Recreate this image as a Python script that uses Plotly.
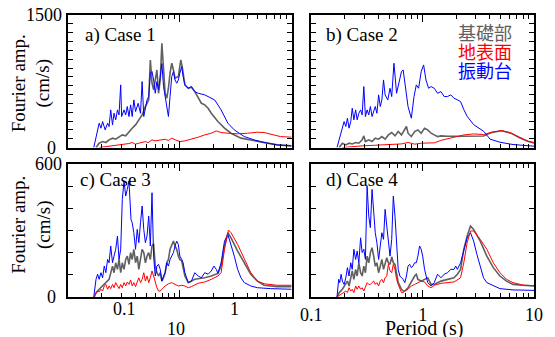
import plotly.graph_objects as go

# ---------------- data (period in s, Fourier amplitude in cm/s) ----------------
# Case 1
c1_gray_T = [0.178,0.190,0.204,0.218,0.233,0.250,0.267,0.286,0.306,0.328,0.351,0.375,0.402,0.430,0.460,0.492,0.527,0.545,0.564,0.583,0.603,0.624,0.645,0.668,0.691,0.715,0.739,0.765,0.791,0.818,0.847,0.877,0.906,0.970,1.00,1.02,1.05,1.11,1.19,1.27,1.36,1.46,1.56,1.67,1.79,1.91,2.19,2.51,2.87,3.52,4.31,5.66,7.42,10.0]
c1_gray_A = [0,49,68,57,87,106,94,124,143,132,181,219,256,313,369,464,539,990,728,652,765,878,614,765,1180,916,614,558,671,841,954,878,784,803,916,992,916,709,671,682,633,558,501,483,445,388,294,219,162,106,87,57,30,19]
c1_blue_T = [0.170,0.190,0.197,0.204,0.215,0.226,0.233,0.241,0.250,0.258,0.267,0.277,0.286,0.296,0.302,0.317,0.328,0.339,0.351,0.363,0.375,0.388,0.402,0.424,0.445,0.460,0.476,0.492,0.509,0.527,0.545,0.564,0.583,0.603,0.624,0.645,0.668,0.691,0.715,0.739,0.765,0.791,0.818,0.847,0.877,0.906,0.938,0.970,1.00,1.04,1.07,1.11,1.19,1.27,1.36,1.46,1.67,1.79,2.05,2.34,2.69,3.07,3.77,4.61,5.66,7.42,10.0]
c1_blue_A = [0,275,219,294,200,275,238,426,256,388,313,426,369,709,351,426,369,464,351,483,351,539,407,501,388,746,351,464,539,577,841,860,765,614,746,652,822,950,690,577,426,351,577,803,860,765,728,765,841,916,803,709,671,690,633,614,596,577,539,426,275,200,124,87,57,30,19]
c1_red_T = [0.190,0.250,0.290,0.328,0.350,0.375,0.400,0.430,0.460,0.492,0.520,0.564,0.600,0.645,0.700,0.739,0.790,0.847,0.920,1.00,1.11,1.27,1.46,1.67,1.91,2.12,2.34,2.69,3.29,4.03,4.94,5.66,6.48,7.94,10.0]
c1_red_A = [0,19,30,41,45,57,38,49,62,68,55,87,75,79,90,94,80,106,85,68,75,94,117,143,162,188,170,162,155,162,173,170,155,124,117]

# Case 2
c2_gray_T = [0.178,0.190,0.204,0.218,0.233,0.250,0.267,0.286,0.296,0.306,0.328,0.351,0.375,0.402,0.430,0.460,0.492,0.527,0.564,0.603,0.645,0.691,0.715,0.739,0.791,0.847,0.906,0.970,1.04,1.11,1.19,1.27,1.36,1.46,1.67,2.19,2.87,3.53,3.80,4.17,5.10,6.20,7.50,8.80,10.0]
c2_gray_A = [0,49,30,49,41,57,49,87,132,68,87,68,106,94,124,94,143,170,132,181,143,219,238,162,124,181,200,162,219,200,162,143,124,132,127,127,127,130,150,170,190,163,107,70,52]
c2_blue_T = [0.170,0.184,0.197,0.204,0.211,0.218,0.226,0.233,0.241,0.250,0.258,0.267,0.277,0.286,0.296,0.306,0.317,0.328,0.339,0.351,0.363,0.375,0.388,0.402,0.416,0.430,0.445,0.460,0.486,0.509,0.527,0.552,0.583,0.611,0.645,0.668,0.700,0.739,0.791,0.836,0.877,0.919,0.970,1.02,1.07,1.13,1.19,1.27,1.36,1.46,1.56,1.67,1.79,1.91,2.05,2.19,2.34,2.51,2.87,3.29,3.53,4.03,4.94,6.48,8.49,10.0]
c2_blue_A = [0,162,294,238,332,219,294,445,313,426,313,388,426,369,690,351,426,369,464,351,426,464,388,596,464,539,765,596,539,671,577,954,614,728,860,878,690,464,332,577,709,671,860,935,765,671,690,671,614,633,577,577,596,558,540,520,430,353,259,205,184,95,60,34,22,15]
c2_red_T = [0.190,0.233,0.286,0.375,0.492,0.564,0.645,0.739,0.847,0.970,1.27,1.47,1.91,2.35,2.88,3.53,4.17,5.10,6.20,7.50,8.80,10.0]
c2_red_A = [0,11,19,26,30,38,41,57,38,49,53,82,120,143,154,147,173,192,165,109,71,53]

# Case 3
c3_gray_T = [0.172,0.178,0.190,0.204,0.218,0.233,0.250,0.258,0.267,0.277,0.286,0.296,0.306,0.317,0.328,0.339,0.351,0.363,0.375,0.388,0.402,0.416,0.430,0.445,0.460,0.476,0.492,0.509,0.527,0.545,0.564,0.583,0.603,0.624,0.645,0.668,0.691,0.715,0.739,0.765,0.791,0.818,0.847,0.877,0.906,0.938,0.970,1.00,1.04,1.07,1.11,1.19,1.27,1.36,1.46,1.67,1.91,2.19,2.34,2.51,2.69,2.87,3.29,3.77,4.31,4.94,5.66,7.42,10.0]
c3_gray_A = [0,20,35,50,65,80,140,110,155,125,170,110,155,125,170,185,148,201,170,216,155,185,125,170,216,201,155,185,201,170,231,241,140,110,95,110,72,87,110,155,170,216,238,253,231,216,185,170,163,125,95,65,72,80,83,87,95,107,140,231,291,268,208,155,103,72,53,47,47]
c3_blue_T = [0.170,0.178,0.184,0.190,0.197,0.204,0.211,0.218,0.226,0.233,0.241,0.250,0.258,0.267,0.277,0.286,0.296,0.306,0.317,0.328,0.339,0.351,0.366,0.375,0.388,0.402,0.416,0.430,0.445,0.460,0.476,0.492,0.509,0.527,0.545,0.564,0.583,0.603,0.624,0.645,0.668,0.691,0.715,0.739,0.765,0.791,0.818,0.847,0.877,0.906,0.938,0.970,1.00,1.04,1.07,1.11,1.19,1.27,1.36,1.46,1.56,1.67,1.79,1.91,2.02,2.12,2.19,2.34,2.51,2.69,2.87,3.07,3.29,3.52,3.77,4.31,4.94,6.48,10.0]
c3_blue_A = [0,80,103,80,110,87,140,110,170,155,231,155,185,216,276,170,216,442,525,457,487,525,351,336,291,216,306,246,336,412,306,246,276,366,231,472,185,95,140,148,125,72,95,110,155,140,170,185,201,231,253,238,185,170,155,110,65,72,110,95,87,110,103,118,140,125,107,155,253,283,238,185,125,87,65,50,42,38,35]
c3_red_T = [0.170,0.178,0.184,0.190,0.197,0.204,0.211,0.218,0.226,0.233,0.241,0.250,0.258,0.267,0.277,0.286,0.296,0.306,0.317,0.328,0.339,0.351,0.363,0.375,0.388,0.402,0.416,0.430,0.445,0.460,0.476,0.492,0.509,0.527,0.545,0.564,0.583,0.603,0.624,0.645,0.668,0.691,0.739,0.791,0.847,0.906,0.970,1.04,1.11,1.19,1.27,1.46,1.67,1.91,2.19,2.34,2.51,2.72,2.87,3.29,3.77,4.31,4.94,5.66,7.42,10.0]
c3_red_A = [0,20,27,23,35,27,50,57,35,50,38,57,42,65,53,38,57,42,65,50,68,57,77,50,65,47,68,87,65,80,110,72,95,65,87,118,95,65,42,27,27,35,50,60,65,57,50,53,50,42,47,62,68,80,95,110,216,303,291,238,170,110,72,60,53,53]

# Case 4
c4_gray_T = [0.170,0.178,0.190,0.204,0.211,0.218,0.226,0.233,0.241,0.250,0.258,0.267,0.277,0.286,0.296,0.306,0.317,0.328,0.339,0.351,0.363,0.375,0.388,0.402,0.416,0.430,0.445,0.460,0.476,0.492,0.509,0.527,0.545,0.564,0.583,0.603,0.624,0.645,0.668,0.691,0.739,0.791,0.847,0.877,0.906,0.970,1.04,1.11,1.19,1.27,1.46,1.67,1.91,2.05,2.19,2.34,2.51,2.69,2.87,3.29,3.77,4.31,4.94,5.66,6.48,7.94,10.0]
c4_gray_A = [0,20,35,57,72,50,95,118,80,125,95,155,110,95,140,110,185,155,201,223,185,140,155,110,140,170,125,155,178,155,148,182,155,148,103,65,50,35,27,27,42,72,95,103,80,72,80,87,57,57,72,80,87,103,125,216,276,321,306,253,185,133,95,72,57,53,50]
c4_blue_T = [0.170,0.176,0.180,0.185,0.190,0.197,0.204,0.211,0.218,0.226,0.233,0.241,0.250,0.258,0.267,0.277,0.286,0.296,0.306,0.317,0.328,0.339,0.351,0.363,0.375,0.388,0.402,0.416,0.430,0.445,0.460,0.476,0.492,0.509,0.527,0.545,0.564,0.583,0.603,0.624,0.645,0.668,0.691,0.715,0.739,0.765,0.791,0.818,0.847,0.877,0.906,0.938,0.970,1.00,1.04,1.11,1.19,1.27,1.36,1.46,1.56,1.67,1.79,1.91,1.98,2.05,2.19,2.34,2.51,2.69,2.87,3.07,3.29,3.52,3.77,4.31,4.94,6.48,10.0]
c4_blue_A = [0,80,65,103,72,57,87,133,95,155,125,216,170,208,155,268,201,216,170,502,366,314,487,366,291,246,170,231,291,261,397,321,246,185,261,457,366,231,125,95,87,80,65,95,140,148,133,140,155,155,185,231,216,185,125,65,50,65,103,87,103,110,125,125,140,125,155,216,268,291,253,193,133,87,65,50,38,32,30]
c4_red_T = [0.170,0.184,0.197,0.204,0.211,0.218,0.226,0.233,0.241,0.250,0.258,0.267,0.277,0.286,0.296,0.306,0.317,0.328,0.339,0.351,0.363,0.375,0.388,0.402,0.416,0.430,0.445,0.460,0.476,0.492,0.509,0.527,0.545,0.564,0.583,0.603,0.624,0.645,0.668,0.691,0.739,0.791,0.847,0.906,0.970,1.04,1.11,1.19,1.27,1.46,1.67,1.91,2.19,2.34,2.51,2.69,2.87,3.29,3.77,4.31,4.94,5.66,6.48,7.94,10.0]
c4_red_A = [0,12,20,27,20,42,27,35,20,50,35,50,35,42,27,50,65,57,57,65,72,57,65,50,72,80,65,87,95,148,118,110,148,125,80,57,35,20,20,27,35,50,57,65,72,68,50,42,53,62,65,68,87,155,246,299,299,261,216,155,110,80,65,54,51]

case_labels = ["a) Case 1", "b) Case 2", "c) Case 3", "d) Case 4"]
series_names = ["基礎部", "地表面", "振動台"]
series_colors = ["#606060", "#ff0000", "#0000ff"]
x_tick_vals = [0.1, 1, 10]
x_tick_text = ["0.1", "1", "10"]
left_tick_text = ["0.1", "1", "10"]   # as printed under panel c
y_max_top = 1500
y_max_bottom = 600

SERIF = "Liberation Serif"
CJK = "Noto Sans CJK JP"

cases = [
    (c1_gray_T, c1_gray_A, c1_red_T, c1_red_A, c1_blue_T, c1_blue_A),
    (c2_gray_T, c2_gray_A, c2_red_T, c2_red_A, c2_blue_T, c2_blue_A),
    (c3_gray_T, c3_gray_A, c3_red_T, c3_red_A, c3_blue_T, c3_blue_A),
    (c4_gray_T, c4_gray_A, c4_red_T, c4_red_A, c4_blue_T, c4_blue_A),
]

fig = go.Figure()
for i, (gT, gA, rT, rA, bT, bA) in enumerate(cases):
    ax = "" if i == 0 else str(i + 1)
    for T, A, name, col, w in [(gT, gA, series_names[0], series_colors[0], 1.6),
                               (bT, bA, series_names[2], series_colors[2], 1.0),
                               (rT, rA, series_names[1], series_colors[1], 1.0)]:
        fig.add_trace(go.Scatter(x=T, y=A, mode="lines", name=name,
                                 line=dict(color=col, width=w),
                                 xaxis="x" + ax, yaxis="y" + ax, showlegend=False))

W, H = 555, 337
L, R, TOP, B = 68, 14, 15, 39
pw, ph = W - L - R, H - TOP - B
def px(x): return (x - L) / pw
def py(y): return (H - B - y) / ph

x_dom_left = [0, px(295)]
x_dom_right = [px(315), 1]
y_dom_top = [py(148), 1]
y_dom_bot = [0, py(165)]

minor_vals = [0.2,0.3,0.4,0.5,0.6,0.7,0.8,0.9,2,3,4,5,6,7,8,9]

def xax(domain, anchor, labels):
    return dict(type="log", range=[-1, 1], domain=domain, anchor=anchor,
                showline=True, linecolor="black", linewidth=2, mirror="ticks",
                ticks="inside", ticklen=7, tickwidth=1, tickcolor="black",
                tickvals=x_tick_vals, ticktext=x_tick_text, showticklabels=labels,
                tickfont=dict(family=SERIF, size=18, color="black"),
                minor=dict(tickvals=minor_vals, ticks="inside", ticklen=4,
                           tickwidth=1, tickcolor="black", showgrid=False),
                showgrid=False, zeroline=False)

def yax(domain, anchor, ymax):
    return dict(range=[0, ymax], domain=domain, anchor=anchor,
                showline=True, linecolor="black", linewidth=2, mirror="ticks",
                ticks="inside", ticklen=5, tickwidth=1, tickcolor="black",
                tickvals=list(range(0, ymax + 1, 100)), showticklabels=False,
                showgrid=False, zeroline=False)

fig.update_layout(
    width=W, height=H, margin=dict(l=L, r=R, t=TOP, b=B),
    paper_bgcolor="white", plot_bgcolor="white",
    font=dict(family=SERIF, size=18, color="black"),
    xaxis=xax(x_dom_left, "y", False), yaxis=yax(y_dom_top, "x", y_max_top),
    xaxis2=xax(x_dom_right, "y2", False), yaxis2=yax(y_dom_top, "x2", y_max_top),
    xaxis3=xax(x_dom_left, "y3", False), yaxis3=yax(y_dom_bot, "x3", y_max_bottom),
    xaxis4=xax(x_dom_right, "y4", True), yaxis4=yax(y_dom_bot, "x4", y_max_bottom),
)

ann = []
# panel labels
for lab, (xp, yp) in zip(case_labels, [(83, 35), (328, 35), (78, 181), (328, 181)]):
    ann.append(dict(text=lab, xref="paper", yref="paper", x=px(xp), y=py(yp),
                    xanchor="left", yanchor="middle", showarrow=False,
                    font=dict(family=SERIF, size=19, color="black")))
# legend text
for name, col, yp in zip(series_names, series_colors, [32, 51, 70]):
    ann.append(dict(text=name, xref="paper", yref="paper", x=px(521), y=py(yp),
                    xanchor="right", yanchor="middle", showarrow=False,
                    font=dict(family=CJK, size=18, color=col)))
# y axis titles
for yp in [84, 226]:
    ann.append(dict(text="Fourier amp.<br>(cm/s)", xref="paper", yref="paper",
                    x=px(31), y=py(yp), xanchor="center", yanchor="middle",
                    textangle=-90, showarrow=False,
                    font=dict(family=SERIF, size=19, color="black")))
# y tick labels (left column)
for yref, ymax in [("y", y_max_top), ("y3", y_max_bottom)]:
    ann.append(dict(text=str(ymax), xref="paper", yref=yref, x=px(64), y=ymax,
                    xanchor="right", yanchor="middle", showarrow=False,
                    font=dict(family=SERIF, size=18, color="black")))
    ann.append(dict(text="0", xref="paper", yref=yref, x=px(51), y=0,
                    xanchor="center", yanchor="middle", showarrow=False,
                    font=dict(family=SERIF, size=18, color="black")))
# x tick labels under panel c (as printed)
for t, (xp, yp) in zip(left_tick_text, [(125, 310), (237, 310), (178, 330)]):
    ann.append(dict(text=t, xref="paper", yref="paper", x=px(xp), y=py(yp),
                    xanchor="center", yanchor="middle", showarrow=False,
                    font=dict(family=SERIF, size=18, color="black")))
# x title
ann.append(dict(text="Period (s)", xref="paper", yref="paper", x=px(429), y=py(330),
                xanchor="center", yanchor="middle", showarrow=False,
                font=dict(family=SERIF, size=20, color="black")))
fig.update_layout(annotations=ann)

fig.write_html("out.html", config={"displayModeBar": False},
               post_script="document.body.style.margin='0';document.body.style.overflow='hidden';")
